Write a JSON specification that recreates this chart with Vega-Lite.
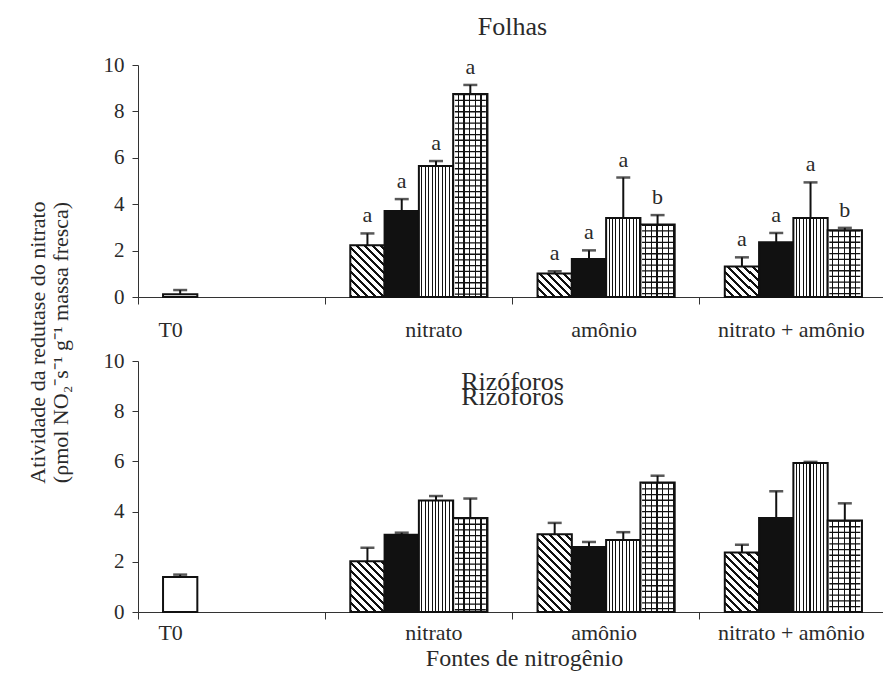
{
  "$schema": "https://vega.github.io/schema/vega-lite/v6.json",
  "background": "white",
  "padding": {"left": 26, "top": 14, "right": 0, "bottom": 5},
  "params": [
    {"name": "diagStops", "value": [
      {"offset": 0, "color": "#111"}, {"offset": 0.025, "color": "#111"}, {"offset": 0.025, "color": "#fff"}, {"offset": 0.0667, "color": "#fff"},
      {"offset": 0.0667, "color": "#111"}, {"offset": 0.0917, "color": "#111"}, {"offset": 0.0917, "color": "#fff"}, {"offset": 0.1333, "color": "#fff"},
      {"offset": 0.1333, "color": "#111"}, {"offset": 0.1583, "color": "#111"}, {"offset": 0.1583, "color": "#fff"}, {"offset": 0.2, "color": "#fff"},
      {"offset": 0.2, "color": "#111"}, {"offset": 0.225, "color": "#111"}, {"offset": 0.225, "color": "#fff"}, {"offset": 0.2667, "color": "#fff"},
      {"offset": 0.2667, "color": "#111"}, {"offset": 0.2917, "color": "#111"}, {"offset": 0.2917, "color": "#fff"}, {"offset": 0.3333, "color": "#fff"},
      {"offset": 0.3333, "color": "#111"}, {"offset": 0.3583, "color": "#111"}, {"offset": 0.3583, "color": "#fff"}, {"offset": 0.4, "color": "#fff"},
      {"offset": 0.4, "color": "#111"}, {"offset": 0.425, "color": "#111"}, {"offset": 0.425, "color": "#fff"}, {"offset": 0.4667, "color": "#fff"},
      {"offset": 0.4667, "color": "#111"}, {"offset": 0.4917, "color": "#111"}, {"offset": 0.4917, "color": "#fff"}, {"offset": 0.5333, "color": "#fff"},
      {"offset": 0.5333, "color": "#111"}, {"offset": 0.5583, "color": "#111"}, {"offset": 0.5583, "color": "#fff"}, {"offset": 0.6, "color": "#fff"},
      {"offset": 0.6, "color": "#111"}, {"offset": 0.625, "color": "#111"}, {"offset": 0.625, "color": "#fff"}, {"offset": 0.6667, "color": "#fff"},
      {"offset": 0.6667, "color": "#111"}, {"offset": 0.6917, "color": "#111"}, {"offset": 0.6917, "color": "#fff"}, {"offset": 0.7333, "color": "#fff"},
      {"offset": 0.7333, "color": "#111"}, {"offset": 0.7583, "color": "#111"}, {"offset": 0.7583, "color": "#fff"}, {"offset": 0.8, "color": "#fff"},
      {"offset": 0.8, "color": "#111"}, {"offset": 0.825, "color": "#111"}, {"offset": 0.825, "color": "#fff"}, {"offset": 0.8667, "color": "#fff"},
      {"offset": 0.8667, "color": "#111"}, {"offset": 0.8917, "color": "#111"}, {"offset": 0.8917, "color": "#fff"}, {"offset": 0.9333, "color": "#fff"},
      {"offset": 0.9333, "color": "#111"}, {"offset": 0.9583, "color": "#111"}, {"offset": 0.9583, "color": "#fff"}, {"offset": 1, "color": "#fff"}
    ]},
    {"name": "vertGrad", "value": {"gradient": "linear", "x1": 0, "y1": 0, "x2": 1, "y2": 0, "stops": [
      {"offset": 0, "color": "#fff"}, {"offset": 0.07, "color": "#fff"}, {"offset": 0.07, "color": "#111"}, {"offset": 0.1, "color": "#111"},
      {"offset": 0.1, "color": "#fff"}, {"offset": 0.17, "color": "#fff"}, {"offset": 0.17, "color": "#111"}, {"offset": 0.2, "color": "#111"},
      {"offset": 0.2, "color": "#fff"}, {"offset": 0.27, "color": "#fff"}, {"offset": 0.27, "color": "#111"}, {"offset": 0.3, "color": "#111"},
      {"offset": 0.3, "color": "#fff"}, {"offset": 0.37, "color": "#fff"}, {"offset": 0.37, "color": "#111"}, {"offset": 0.4, "color": "#111"},
      {"offset": 0.4, "color": "#fff"}, {"offset": 0.47, "color": "#fff"}, {"offset": 0.47, "color": "#111"}, {"offset": 0.5, "color": "#111"},
      {"offset": 0.5, "color": "#fff"}, {"offset": 0.57, "color": "#fff"}, {"offset": 0.57, "color": "#111"}, {"offset": 0.6, "color": "#111"},
      {"offset": 0.6, "color": "#fff"}, {"offset": 0.67, "color": "#fff"}, {"offset": 0.67, "color": "#111"}, {"offset": 0.7, "color": "#111"},
      {"offset": 0.7, "color": "#fff"}, {"offset": 0.77, "color": "#fff"}, {"offset": 0.77, "color": "#111"}, {"offset": 0.8, "color": "#111"},
      {"offset": 0.8, "color": "#fff"}, {"offset": 0.87, "color": "#fff"}, {"offset": 0.87, "color": "#111"}, {"offset": 0.9, "color": "#111"},
      {"offset": 0.9, "color": "#fff"}, {"offset": 0.97, "color": "#fff"}, {"offset": 0.97, "color": "#111"}, {"offset": 1, "color": "#111"}
    ]}},
    {"name": "gridGrad", "value": {"gradient": "linear", "x1": 0, "y1": 0, "x2": 1, "y2": 0, "stops": [
      {"offset": 0, "color": "#fff"}, {"offset": 0.13, "color": "#fff"}, {"offset": 0.13, "color": "#111"}, {"offset": 0.1667, "color": "#111"},
      {"offset": 0.1667, "color": "#fff"}, {"offset": 0.2967, "color": "#fff"}, {"offset": 0.2967, "color": "#111"}, {"offset": 0.3333, "color": "#111"},
      {"offset": 0.3333, "color": "#fff"}, {"offset": 0.4633, "color": "#fff"}, {"offset": 0.4633, "color": "#111"}, {"offset": 0.5, "color": "#111"},
      {"offset": 0.5, "color": "#fff"}, {"offset": 0.63, "color": "#fff"}, {"offset": 0.63, "color": "#111"}, {"offset": 0.6667, "color": "#111"},
      {"offset": 0.6667, "color": "#fff"}, {"offset": 0.7967, "color": "#fff"}, {"offset": 0.7967, "color": "#111"}, {"offset": 0.8333, "color": "#111"},
      {"offset": 0.8333, "color": "#fff"}, {"offset": 0.9633, "color": "#fff"}, {"offset": 0.9633, "color": "#111"}, {"offset": 1, "color": "#111"}
    ]}}
  ],
  "datasets": {
    "dados": [
      {"painel": "Folhas", "grupo": "T0", "slot": 1, "trat": "T0", "valor": 0.12, "sup": 0.3, "letra": ""},
      {"painel": "Folhas", "grupo": "nitrato", "slot": 1, "trat": "D", "valor": 2.23, "sup": 2.74, "letra": "a"},
      {"painel": "Folhas", "grupo": "nitrato", "slot": 2, "trat": "B", "valor": 3.71, "sup": 4.22, "letra": "a"},
      {"painel": "Folhas", "grupo": "nitrato", "slot": 3, "trat": "V", "valor": 5.65, "sup": 5.86, "letra": "a"},
      {"painel": "Folhas", "grupo": "nitrato", "slot": 4, "trat": "G", "valor": 8.75, "sup": 9.14, "letra": "a"},
      {"painel": "Folhas", "grupo": "amônio", "slot": 1, "trat": "D", "valor": 1.01, "sup": 1.11, "letra": "a"},
      {"painel": "Folhas", "grupo": "amônio", "slot": 2, "trat": "B", "valor": 1.64, "sup": 2.01, "letra": "a"},
      {"painel": "Folhas", "grupo": "amônio", "slot": 3, "trat": "V", "valor": 3.41, "sup": 5.15, "letra": "a"},
      {"painel": "Folhas", "grupo": "amônio", "slot": 4, "trat": "G", "valor": 3.12, "sup": 3.53, "letra": "b"},
      {"painel": "Folhas", "grupo": "nitrato + amônio", "slot": 1, "trat": "D", "valor": 1.32, "sup": 1.71, "letra": "a"},
      {"painel": "Folhas", "grupo": "nitrato + amônio", "slot": 2, "trat": "B", "valor": 2.36, "sup": 2.76, "letra": "a"},
      {"painel": "Folhas", "grupo": "nitrato + amônio", "slot": 3, "trat": "V", "valor": 3.41, "sup": 4.94, "letra": "a"},
      {"painel": "Folhas", "grupo": "nitrato + amônio", "slot": 4, "trat": "G", "valor": 2.88, "sup": 2.98, "letra": "b"},
      {"painel": "Rizóforos", "grupo": "T0", "slot": 1, "trat": "T0", "valor": 1.39, "sup": 1.49, "letra": ""},
      {"painel": "Rizóforos", "grupo": "nitrato", "slot": 1, "trat": "D", "valor": 2.02, "sup": 2.56, "letra": ""},
      {"painel": "Rizóforos", "grupo": "nitrato", "slot": 2, "trat": "B", "valor": 3.08, "sup": 3.16, "letra": ""},
      {"painel": "Rizóforos", "grupo": "nitrato", "slot": 3, "trat": "V", "valor": 4.44, "sup": 4.62, "letra": ""},
      {"painel": "Rizóforos", "grupo": "nitrato", "slot": 4, "trat": "G", "valor": 3.75, "sup": 4.52, "letra": ""},
      {"painel": "Rizóforos", "grupo": "amônio", "slot": 1, "trat": "D", "valor": 3.1, "sup": 3.55, "letra": ""},
      {"painel": "Rizóforos", "grupo": "amônio", "slot": 2, "trat": "B", "valor": 2.59, "sup": 2.79, "letra": ""},
      {"painel": "Rizóforos", "grupo": "amônio", "slot": 3, "trat": "V", "valor": 2.87, "sup": 3.18, "letra": ""},
      {"painel": "Rizóforos", "grupo": "amônio", "slot": 4, "trat": "G", "valor": 5.16, "sup": 5.43, "letra": ""},
      {"painel": "Rizóforos", "grupo": "nitrato + amônio", "slot": 1, "trat": "D", "valor": 2.37, "sup": 2.68, "letra": ""},
      {"painel": "Rizóforos", "grupo": "nitrato + amônio", "slot": 2, "trat": "B", "valor": 3.75, "sup": 4.81, "letra": ""},
      {"painel": "Rizóforos", "grupo": "nitrato + amônio", "slot": 3, "trat": "V", "valor": 5.94, "sup": 5.98, "letra": ""},
      {"painel": "Rizóforos", "grupo": "nitrato + amônio", "slot": 4, "trat": "G", "valor": 3.65, "sup": 4.33, "letra": ""}
    ]
  },
  "bounds": "flush",
  "spacing": 64,
  "vconcat": [
    {
      "width": 749,
      "height": 232,
      "title": {"text": "Folhas", "fontSize": 26, "offset": 14},
      "data": {"name": "dados"},
      "transform": [{"filter": "datum.painel === 'Folhas'"}],
      "encoding": {
        "x": {
          "field": "grupo", "type": "nominal",
          "scale": {"domain": ["T0", "nitrato", "amônio", "nitrato + amônio"], "paddingInner": 0, "paddingOuter": 0},
          "axis": {
            "title": null, "bandPosition": 0, "tickSize": 7, "labelFontSize": 22, "labelPadding": 15, "labelAngle": 0,
            "labelOffset": {"condition": [{"test": "datum.value === 'T0'", "value": -61}, {"test": "datum.value === 'nitrato'", "value": 15}], "value": -2}
          }
        },
        "xOffset": {"field": "slot", "type": "ordinal", "scale": {"domain": [1, 2, 3, 4], "paddingInner": 0, "paddingOuter": 0.73}}
      },
      "layer": [
        {
          "mark": {
            "type": "bar", "stroke": "#111", "strokeWidth": 2,
            "fill": {"expr": "datum.trat === 'B' ? '#111' : datum.trat === 'V' ? vertGrad : datum.trat === 'G' ? gridGrad : datum.trat === 'D' ? {'gradient': 'linear', 'x1': 0, 'y1': 1, 'x2': 4080 / (1156 + pow(datum.valor * 23.2, 2)), 'y2': 1 - 120 * datum.valor * 23.2 / (1156 + pow(datum.valor * 23.2, 2)), 'stops': diagStops} : '#fff'"}
          },
          "encoding": {
            "y": {
              "field": "valor", "type": "quantitative",
              "scale": {"domain": [0, 10], "nice": false},
              "axis": {
                "values": [0, 2, 4, 6, 8, 10], "tickSize": 6, "labelPadding": 8, "labelFontSize": 21,
                "title": ["Atividade da redutase do nitrato", "(ρmol NO₂⁻s⁻¹ g⁻¹ massa fresca)"],
                "titleFontSize": 22, "titleLineHeight": 23, "titleX": -101, "titleY": 277,
                "titleAngle": 270, "titleAlign": "center", "titleBaseline": "middle"
              }
            }
          }
        },
        {
          "transform": [{"filter": "datum.trat === 'G'"}],
          "mark": {"type": "rule", "strokeWidth": 31, "strokeDash": [1.3, 4.4], "strokeCap": "butt", "color": "#111"},
          "encoding": {"y": {"field": "valor", "type": "quantitative"}, "y2": {"datum": 0}}
        },
        {
          "mark": {"type": "rule", "strokeWidth": 2, "color": "#111"},
          "encoding": {"y": {"field": "valor", "type": "quantitative"}, "y2": {"field": "sup"}}
        },
        {
          "mark": {"type": "tick", "size": 14, "thickness": 2.5, "color": "#111"},
          "encoding": {"y": {"field": "sup", "type": "quantitative"}}
        },
        {
          "mark": {"type": "text", "font": "Liberation Serif", "fontSize": 22, "dy": -11, "baseline": "alphabetic", "color": "#2a2a2a"},
          "encoding": {"y": {"field": "sup", "type": "quantitative"}, "text": {"field": "letra"}}
        }
      ]
    },
    {
      "width": 749,
      "height": 251,
      "title": {"text": ["Rizóforos", "Rizóforos"], "fontSize": 26, "lineHeight": 15, "baseline": "top", "offset": -8, "dy": 52},
      "data": {"name": "dados"},
      "transform": [{"filter": "datum.painel === 'Rizóforos'"}],
      "encoding": {
        "x": {
          "field": "grupo", "type": "nominal",
          "scale": {"domain": ["T0", "nitrato", "amônio", "nitrato + amônio"], "paddingInner": 0, "paddingOuter": 0},
          "axis": {
            "title": "Fontes de nitrogênio", "titleFontSize": 24, "titlePadding": 3, "titleX": 386,
            "bandPosition": 0, "tickSize": 7, "labelFontSize": 22, "labelPadding": 3, "labelAngle": 0,
            "labelOffset": {"condition": [{"test": "datum.value === 'T0'", "value": -61}, {"test": "datum.value === 'nitrato'", "value": 15}], "value": -2}
          }
        },
        "xOffset": {"field": "slot", "type": "ordinal", "scale": {"domain": [1, 2, 3, 4], "paddingInner": 0, "paddingOuter": 0.73}}
      },
      "layer": [
        {
          "mark": {
            "type": "bar", "stroke": "#111", "strokeWidth": 2,
            "fill": {"expr": "datum.trat === 'B' ? '#111' : datum.trat === 'V' ? vertGrad : datum.trat === 'G' ? gridGrad : datum.trat === 'D' ? {'gradient': 'linear', 'x1': 0, 'y1': 1, 'x2': 4080 / (1156 + pow(datum.valor * 25.1, 2)), 'y2': 1 - 120 * datum.valor * 25.1 / (1156 + pow(datum.valor * 25.1, 2)), 'stops': diagStops} : '#fff'"}
          },
          "encoding": {
            "y": {
              "field": "valor", "type": "quantitative",
              "scale": {"domain": [0, 10], "nice": false},
              "axis": {"values": [0, 2, 4, 6, 8, 10], "tickSize": 6, "labelPadding": 8, "labelFontSize": 21, "title": null}
            }
          }
        },
        {
          "transform": [{"filter": "datum.trat === 'G'"}],
          "mark": {"type": "rule", "strokeWidth": 31, "strokeDash": [1.3, 4.4], "strokeCap": "butt", "color": "#111"},
          "encoding": {"y": {"field": "valor", "type": "quantitative"}, "y2": {"datum": 0}}
        },
        {
          "mark": {"type": "rule", "strokeWidth": 2, "color": "#111"},
          "encoding": {"y": {"field": "valor", "type": "quantitative"}, "y2": {"field": "sup"}}
        },
        {
          "mark": {"type": "tick", "size": 14, "thickness": 2.5, "color": "#111"},
          "encoding": {"y": {"field": "sup", "type": "quantitative"}}
        }
      ]
    }
  ],
  "config": {
    "view": {"stroke": null},
    "font": "Liberation Serif",
    "axis": {
      "labelFont": "Liberation Serif", "titleFont": "Liberation Serif",
      "labelColor": "#2a2a2a", "titleColor": "#2a2a2a", "domainColor": "#333", "tickColor": "#333",
      "titleFontWeight": "normal", "grid": false
    },
    "title": {"font": "Liberation Serif", "fontWeight": "normal", "color": "#2a2a2a"}
  }
}
